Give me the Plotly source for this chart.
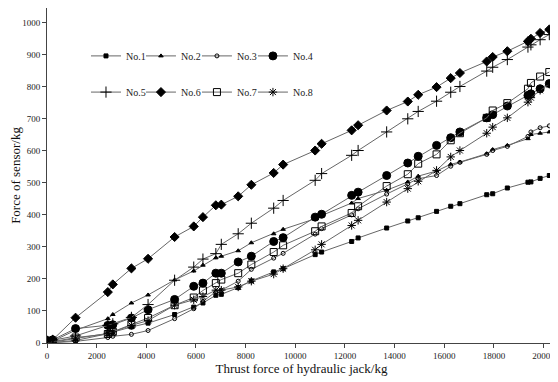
import plotly.graph_objects as go

thrust = [0, 230, 1150, 2450, 2650, 3400, 4070, 5140, 5910, 6280, 6800, 7020, 7700, 8230, 9130, 9510,
          10800, 11060, 12270, 12530, 13680, 14530, 14950, 15690, 16260, 16630, 17710, 17950, 18540,
          19370, 19490, 19860, 20230]

no1 = [0, 2, 8, 29, 34, 50, 62, 89, 112, 125, 149, 152, 173, 194, 222, 232,
       276, 284, 317, 328, 359, 381, 391, 411, 427, 435, 463, 466, 484, 502, 503, 514, 523]
no2 = [3, 6, 40, 76, 89, 125, 150, 197, 225, 243, 266, 271, 288, 313, 341, 355,
       388, 398, 437, 451, 477, 503, 521, 537, 558, 565, 591, 604, 617, 638, 651, 655, 659]
no3 = [0, 1, 5, 17, 21, 27, 39, 76, 107, 130, 160, 165, 193, 230, 265, 280,
       340, 357, 400, 419, 465, 497, 513, 523, 552, 564, 589, 601, 614, 645, 659, 672, 678]
no4 = [8, 10, 45, 55, 57, 78, 104, 136, 177, 187, 218, 218, 253, 271, 317, 329,
       393, 402, 461, 471, 523, 562, 583, 617, 641, 659, 703, 713, 740, 773, 778, 794, 810]
no5 = [5, 8, 22, 55, 60, 80, 120, 196, 237, 262, 279, 308, 341, 374, 421, 445,
       508, 529, 586, 601, 659, 700, 723, 755, 783, 801, 849, 861, 885, 924, 931, 947, 963]
no6 = [8, 10, 79, 159, 183, 233, 263, 331, 364, 393, 430, 432, 458, 494, 531, 557,
       601, 622, 664, 680, 726, 754, 775, 799, 827, 843, 879, 893, 911, 942, 950, 968, 979]
no7 = [2, 4, 17, 28, 35, 58, 78, 118, 142, 164, 187, 198, 218, 245, 284, 305,
       349, 364, 406, 427, 490, 527, 560, 589, 633, 655, 703, 726, 749, 794, 812, 832, 846]
no8 = [0, 3, 15, 30, 35, 55, 70, 118, 135, 145, 165, 165, 175, 193, 215, 232,
       291, 308, 367, 383, 440, 482, 505, 539, 581, 601, 655, 674, 703, 752, 766, 789, 808]

names = ["No.1", "No.2", "No.3", "No.4", "No.5", "No.6", "No.7", "No.8"]
series = [no1, no2, no3, no4, no5, no6, no7, no8]
symbols = ["square", "triangle-up", "circle-open", "circle", "cross-thin-open", "diamond", "square-open", "asterisk-open"]
sizes = [4, 4, 4, 8, 8, 7, 7, 7]

SERIF = "Liberation Serif, Times New Roman, serif"

fig = go.Figure()
legend_ids = ["legend"] + ["legend%d" % k for k in range(2, 9)]
for i, (nm, ys) in enumerate(zip(names, series)):
    fig.add_trace(go.Scatter(
        x=thrust, y=ys, name=nm, mode="lines+markers", showlegend=True,
        line=dict(color="#666666", width=1),
        marker=dict(symbol=symbols[i], size=sizes[i], color="#000000",
                    line=dict(color="#000000", width=1)),
        legend=legend_ids[i],
    ))

col_x = [0.0766, 0.1846, 0.2946, 0.4046]
row_y = [0.857, 0.749]
legends = {}
for i, lid in enumerate(legend_ids):
    legends[lid] = dict(orientation="h", font=dict(family=SERIF, size=10, color="#222"),
                        bgcolor="rgba(0,0,0,0)", itemwidth=30,
                        xanchor="left", yanchor="middle",
                        x=col_x[i % 4], y=row_y[i // 4])

# page body has an 8px default margin, so the figure is 8px smaller than the window
fig.update_layout(
    width=550, height=374,
    showlegend=True,
    margin=dict(l=39, r=2, t=0, b=39),
    plot_bgcolor="white", paper_bgcolor="white",
    font=dict(family=SERIF, color="#222"),
    xaxis=dict(range=[0, 20500], tickmode="linear", tick0=0, dtick=2000, tickformat="d",
               automargin=False,
               showgrid=False, zeroline=False, showline=True, linecolor="#444", linewidth=1,
               ticks="outside", ticklen=4, tickcolor="#444",
               tickfont=dict(family=SERIF, size=9, color="#222"),
               title=dict(text="Thrust force of hydraulic jack/kg", standoff=4,
                          font=dict(family=SERIF, size=13, color="#111"))),
    yaxis=dict(range=[0, 1046], tickmode="array", tickvals=list(range(0, 1001, 100)),
               automargin=False,
               showgrid=False, zeroline=False, showline=True, linecolor="#444", linewidth=1,
               ticks="outside", ticklen=4, tickcolor="#444",
               tickfont=dict(family=SERIF, size=9, color="#222"),
               title=dict(text="Force of sensor/kg", standoff=4,
                          font=dict(family=SERIF, size=13, color="#111"))),
    **legends,
)

fig.write_html("out.html")
